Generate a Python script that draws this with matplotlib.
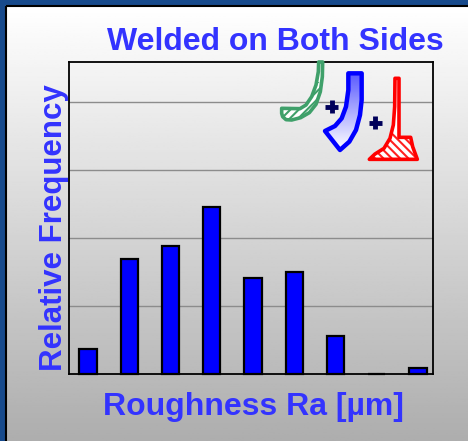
import matplotlib
matplotlib.use("Agg")
import matplotlib.pyplot as plt
from matplotlib.colors import LinearSegmentedColormap
from matplotlib.patches import Polygon, Rectangle
from matplotlib.transforms import Affine2D
import numpy as np

# wartosci (1 = jedna linia siatki)
klasy = [0, 1, 2, 3, 4, 5, 6, 7, 8]
czestosc = [0.37, 1.69, 1.88, 2.46, 1.41, 1.50, 0.56, 0.0, 0.09]
siatka = [1, 2, 3, 4]

W, H = 468, 441
NIEBIESKI = "#3333ff"

plt.rcParams["font.family"] = ["Liberation Sans", "DejaVu Sans"]
plt.rcParams["hatch.linewidth"] = 1.5

fig = plt.figure(figsize=(W / 100, H / 100), dpi=100)
fig.patch.set_facecolor("#174a8c")

# przeliczanie pikseli obrazka (y w dol) na wspolrzedne figury
px = Affine2D().scale(1 / W, -1 / H).translate(0, 1) + fig.transFigure

# tlo z gradientem
tlo = fig.add_axes([7 / W, 0, 1 - 7 / W, 1 - 7 / H], zorder=0)
gradient = np.linspace(1.0, 0.68, 256).reshape(-1, 1)
tlo.imshow(gradient, cmap="gray", vmin=0, vmax=1, aspect="auto")
tlo.axis("off")
fig.add_artist(Rectangle((6, 6), W, H, transform=px, fill=False, ec="black", lw=1.5, zorder=1))

# wykres slupkowy
L, R, T, B = 69, 433, 62, 374
ax = fig.add_axes([L / W, 1 - B / H, (R - L) / W, (B - T) / H], zorder=2)
ax.patch.set_alpha(0)
ax.bar(klasy, czestosc, width=0.42, color="#0000ff", edgecolor="black", linewidth=1.6, clip_on=False, zorder=3)
ax.set_xlim(-0.46, 8.364)
ax.set_ylim(0, (B - T) / 68)
ax.set_yticks(siatka)
ax.set_xticks([])
ax.tick_params(left=False, labelleft=False)
ax.grid(axis="y", color="#8c8c8c", lw=1)
ax.set_axisbelow(True)
for s in ax.spines.values():
    s.set_linewidth(1.3)
    s.set_color("black")

fig.text(275 / W, 1 - 42 / H, "Welded on Both Sides", color=NIEBIESKI, fontsize=23,
         fontweight="bold", ha="center", va="center", zorder=5)
fig.text(253 / W, 1 - 407 / H, "Roughness Ra [\u00b5m]", color=NIEBIESKI, fontsize=23,
         fontweight="bold", ha="center", va="center", zorder=5)
fig.text(54 / W, 1 - 228 / H, "Relative Frequency", color=NIEBIESKI, fontsize=22.5,
         fontweight="bold", rotation=90, ha="center", va="center", zorder=5)

# rysunki profili (wspolrzedne z powiekszenia 3x, poczatek 260,50)
def punkty(lista):
    return [(260 + x / 3, 50 + y / 3) for x, y in lista]

zielony = punkty([(176, 36), (188, 36), (187, 80), (181, 125), (168, 163), (148, 188), (122, 203),
                  (95, 210), (78, 209), (68, 200), (65, 190), (65, 175), (120, 176), (138, 165),
                  (155, 140), (168, 105), (175, 65)])
niebieski = punkty([(265, 70), (305, 70), (305, 150), (300, 195), (288, 240), (268, 275), (240, 300),
                    (195, 243), (225, 228), (245, 205), (258, 170), (265, 120)])
czerwony = punkty([(405, 85), (417, 85), (417, 262), (452, 262), (458, 290), (472, 328), (328, 328),
                   (345, 312), (372, 295), (390, 265), (400, 225), (404, 170)])

# osobne osie w pikselach obrazka na rysunki
g = fig.add_axes([0, 0, 1, 1], zorder=6)
g.patch.set_alpha(0)
g.axis("off")

# zielony: kreskowanie tylko w dolnej czesci
g.add_patch(Polygon(zielony, fc="white", ec="none", zorder=1))
pz = Polygon(zielony, fill=False, ec="#3fa06a", hatch="////", lw=0, zorder=2)
g.add_patch(pz)
pz.set_clip_path(Rectangle((260, 50 + 95 / 3), 80, 50, transform=g.transData))
g.add_patch(Polygon(zielony, fill=False, ec="#3fa06a", lw=2.6, joinstyle="round", zorder=3))

# niebieski: gradient w srodku
mapa = LinearSegmentedColormap.from_list("b", ["#5a5aff", "white"])
grad = np.linspace(0, 1, 64).reshape(-1, 1)
im = g.imshow(grad, cmap=mapa, extent=(323, 364, 150, 73), aspect="auto", vmin=0, vmax=1, zorder=1)
pb = Polygon(niebieski, fill=False, ec="none")
g.add_patch(pb)
im.set_clip_path(pb)
g.add_patch(Polygon(niebieski, fill=False, ec="#0000ff", lw=3.2, joinstyle="round", zorder=3))

# czerwony: kreskowanie tylko w stopie
g.add_patch(Polygon(czerwony, fc="white", ec="none", zorder=1))
ph = Polygon(czerwony, fill=False, ec="#ff2020", hatch="\\\\\\\\", lw=0, zorder=2)
g.add_patch(ph)
ph.set_clip_path(Rectangle((360, 50 + 250 / 3), 70, 40, transform=g.transData))
g.add_patch(Polygon(czerwony, fill=False, ec="#ff0000", lw=2.6, joinstyle="round", zorder=3))

# plusy
for x, y in [(331.5, 106.5), (375, 122.5)]:
    g.plot([x - 6.5, x + 6.5], [y, y], color="#00005a", lw=3.5, solid_capstyle="butt", zorder=4)
    g.plot([x, x], [y - 6.5, y + 6.5], color="#00005a", lw=3.5, solid_capstyle="butt", zorder=4)

g.set_xlim(0, W)
g.set_ylim(H, 0)

fig.savefig("out.png", dpi=100, facecolor=fig.get_facecolor())
